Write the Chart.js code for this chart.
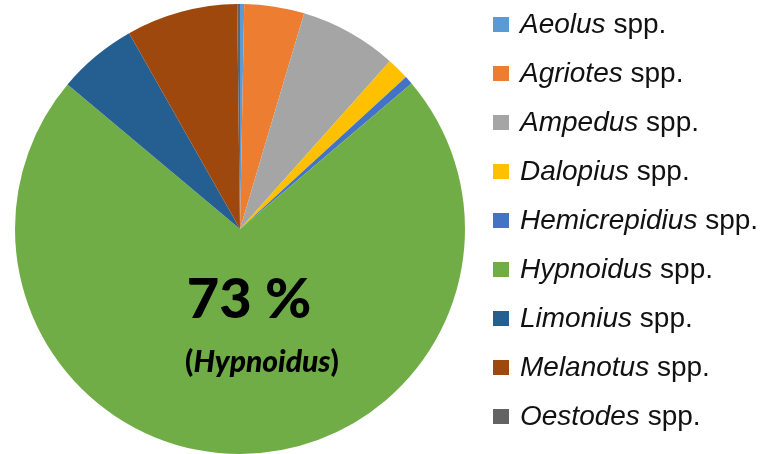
<!DOCTYPE html>
<html>
<head>
<meta charset="utf-8">
<script src="https://cdn.jsdelivr.net/npm/chart.js@4"></script>
<style>
  html, body { margin: 0; padding: 0; background: #fff; }
  #wrap { width: 763px; height: 454px; position: relative; }
</style>
</head>
<body>
<div id="wrap"><canvas id="pie"></canvas></div>
<script>
// genus names (italic part of legend) and share of catch
const genera = ['Aeolus', 'Agriotes', 'Ampedus', 'Dalopius', 'Hemicrepidius',
                'Hypnoidus', 'Limonius', 'Melanotus', 'Oestodes'];
const shares = [0.3, 4.3, 7.0, 1.6, 0.6, 72.3, 5.7, 8.0, 0.2];
const colors = ['#5B9BD5', '#ED7D31', '#A5A5A5', '#FFC000', '#4472C4',
                '#70AD47', '#255E91', '#9E480E', '#636363'];
const centerValue = '73 %';
const centerGenus = 'Hypnoidus';

// legend drawn by hand so the genus can be italic and "spp." upright
const sppLegend = {
    id: 'sppLegend',
    afterDraw(chart) {
        const ctx = chart.ctx;
        const x0 = 493, y0 = 24, step = 49;
        ctx.save();
        ctx.textBaseline = 'middle';
        genera.forEach(function (g, i) {
            const y = y0 + i * step;
            ctx.fillStyle = colors[i];
            ctx.fillRect(x0, y - 7, 16, 15);
            ctx.fillStyle = '#111';
            ctx.font = 'italic 28px "Liberation Sans", Arial, sans-serif';
            ctx.fillText(g, x0 + 27, y + 1);
            const w = ctx.measureText(g + ' ').width;
            ctx.font = '28px "Liberation Sans", Arial, sans-serif';
            ctx.fillText('spp.', x0 + 27 + w, y + 1);
        });
        ctx.restore();
    }
};

// big label inside the green slice
const centerLabel = {
    id: 'centerLabel',
    afterDatasetsDraw(chart) {
        const ctx = chart.ctx;
        const cx = 252;
        ctx.save();
        ctx.fillStyle = '#000';
        ctx.textAlign = 'center';
        ctx.textBaseline = 'alphabetic';
        ctx.font = '900 56px Lato, "Open Sans", sans-serif';
        ctx.fillText(centerValue, cx - 3, 318);

        const reg = '900 30px Lato, "Open Sans", sans-serif';
        const ita = 'italic 900 30px Lato, "Open Sans", sans-serif';
        ctx.font = reg;
        const wo = ctx.measureText('(').width;
        const wc = ctx.measureText(')').width;
        ctx.font = ita;
        const wg = ctx.measureText(centerGenus).width;
        let x = cx + 10 - (wo + wg + wc) / 2;
        ctx.textAlign = 'left';
        ctx.font = reg;
        ctx.fillText('(', x, 372);
        x += wo;
        ctx.font = ita;
        ctx.fillText(centerGenus, x, 372);
        x += wg;
        ctx.font = reg;
        ctx.fillText(')', x, 372);
        ctx.restore();
    }
};

new Chart(document.getElementById('pie'), {
    type: 'pie',
    data: {
        labels: genera.map(g => g + ' spp.'),
        datasets: [{
            data: shares,
            backgroundColor: colors,
            borderWidth: 0
        }]
    },
    options: {
        responsive: true,
        maintainAspectRatio: false,
        animation: false,
        layout: { padding: { left: 12, right: 295, top: 4, bottom: 0 } },
        plugins: {
            legend: { display: false },
            tooltip: { enabled: false }
        }
    },
    plugins: [centerLabel, sppLegend]
});
</script>
</body>
</html>
